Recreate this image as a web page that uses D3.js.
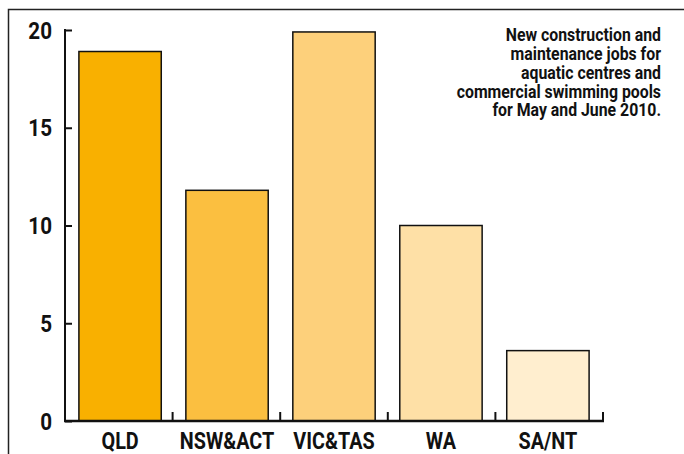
<!DOCTYPE html>
<html>
<head>
<meta charset="utf-8">
<script src="https://cdn.jsdelivr.net/npm/d3@7"></script>
<style>
  body { margin: 0; background: #fff; }
  svg text { font-family: Roboto, "Liberation Sans", sans-serif; font-weight: bold; fill: #111; }
</style>
</head>
<body>
<script>
var regions = ['QLD', 'NSW&ACT', 'VIC&TAS', 'WA', 'SA/NT'];
var jobs = [18.9, 11.8, 19.9, 10.0, 3.6];
var bar_colors = ['#f9b000', '#fbbf40', '#fdd07b', '#fee0a6', '#ffeecf'];
var y_ticks = [0, 5, 10, 15, 20];
var note_lines = ['New construction and', 'maintenance jobs for', 'aquatic centres and',
                  'commercial swimming pools', 'for May and June 2010.'];

var width = 684,
    height = 454;

// the original type is a condensed bold, squeeze Roboto to get close
var NARROW = 0.86;

var svg = d3.select('body').append('svg')
    .attr('width', width)
    .attr('height', height);

// frame round the chart, open to the right and bottom
svg.append('path')
    .attr('d', 'M8.5,' + height + 'V9.5H' + width)
    .attr('fill', 'none')
    .attr('stroke', '#222')
    .attr('stroke-width', 1.5);

var x = d3.scaleBand()
    .domain(regions)
    .range([65, 603])
    .paddingInner(0.23)
    .paddingOuter(0.13);

// plain bands for the tick marks between categories
var xcell = d3.scaleBand()
    .domain(regions)
    .range([65, 603]);

var y = d3.scaleLinear()
    .domain([0, 20])
    .range([421, 30]);

// bars
svg.selectAll('rect.bar')
  .data(regions)
  .enter().append('rect')
    .attr('class', 'bar')
    .attr('x', function(d) { return x(d); })
    .attr('y', function(d, i) { return y(jobs[i]); })
    .attr('width', x.bandwidth())
    .attr('height', function(d, i) { return y(0) - y(jobs[i]); })
    .attr('fill', function(d, i) { return bar_colors[i]; })
    .attr('stroke', '#111')
    .attr('stroke-width', 1.5);

// y axis
var yAxis = svg.append('g')
    .attr('transform', 'translate(65,0)')
    .call(d3.axisRight(y).tickValues(y_ticks).tickSize(7).tickFormat(''));
yAxis.select('.domain').remove();
yAxis.selectAll('line').attr('stroke', '#111').attr('stroke-width', 2);
svg.append('line')
    .attr('x1', 65).attr('x2', 65)
    .attr('y1', y(20) - 1).attr('y2', y(0) + 1)
    .attr('stroke', '#111').attr('stroke-width', 2);

svg.selectAll('text.ylab')
  .data(y_ticks)
  .enter().append('text')
    .attr('class', 'ylab')
    .attr('transform', function(d) { return 'translate(52,' + (y(d) + 8.5) + ') scale(' + NARROW + ',1)'; })
    .attr('text-anchor', 'end')
    .attr('font-size', 24)
    .text(function(d) { return d; });

// x axis
svg.append('line')
    .attr('x1', 64).attr('x2', 604)
    .attr('y1', y(0)).attr('y2', y(0))
    .attr('stroke', '#111').attr('stroke-width', 2.5);
svg.selectAll('line.xtick')
  .data(regions)
  .enter().append('line')
    .attr('class', 'xtick')
    .attr('x1', function(d) { return xcell(d) + xcell.bandwidth(); })
    .attr('x2', function(d) { return xcell(d) + xcell.bandwidth(); })
    .attr('y1', y(0))
    .attr('y2', y(0) - 9)
    .attr('stroke', '#111').attr('stroke-width', 2);

svg.selectAll('text.xlab')
  .data(regions)
  .enter().append('text')
    .attr('class', 'xlab')
    .attr('transform', function(d) { return 'translate(' + (x(d) + x.bandwidth() / 2) + ',449) scale(' + NARROW + ',1)'; })
    .attr('text-anchor', 'middle')
    .attr('font-size', 23)
    .text(function(d) { return d; });

// note
svg.append('text')
    .attr('transform', 'translate(661,0) scale(0.88,1)')
    .attr('text-anchor', 'end')
    .attr('font-size', 18)
  .selectAll('tspan')
  .data(note_lines)
  .enter().append('tspan')
    .attr('x', 0)
    .attr('y', function(d, i) { return 41.5 + i * 18.75; })
    .text(function(d) { return d; });
</script>
</body>
</html>
